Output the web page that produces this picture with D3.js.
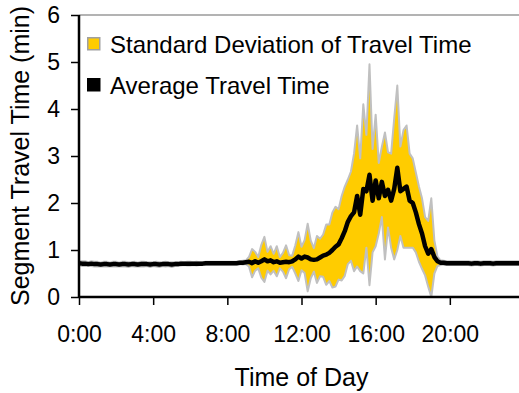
<!DOCTYPE html>
<html>
<head>
<meta charset="utf-8">
<script src="https://cdn.jsdelivr.net/npm/d3@7/dist/d3.min.js"></script>
<style>
  html, body { margin: 0; padding: 0; background: #fff; }
  svg { display: block; font-family: "Liberation Sans", Arial, sans-serif; }
</style>
</head>
<body>
<div id="chart"></div>
<script>
// 10-minute bins, hours of day
const binHours = d3.range(0, 144).map(i => i / 6);

const meanTravel = [
  0.72, 0.71, 0.71, 0.70, 0.71, 0.70,   // 0h
  0.70, 0.69, 0.70, 0.70, 0.69, 0.70,   // 1h
  0.70, 0.69, 0.70, 0.70, 0.69, 0.70,   // 2h
  0.70, 0.69, 0.70, 0.70, 0.70, 0.69,   // 3h
  0.70, 0.70, 0.69, 0.70, 0.70, 0.70,   // 4h
  0.69, 0.70, 0.70, 0.71, 0.71, 0.71,   // 5h
  0.71, 0.71, 0.71, 0.71, 0.71, 0.72,   // 6h
  0.72, 0.72, 0.72, 0.72, 0.72, 0.72,   // 7h
  0.72, 0.72, 0.72, 0.72, 0.73, 0.73,   // 8h
  0.74, 0.75, 0.72, 0.76, 0.73, 0.76,   // 9h
  0.80, 0.76, 0.78, 0.74, 0.76, 0.73,   // 10h
  0.74, 0.75, 0.74, 0.76, 0.80, 0.86,   // 11h
  0.82, 0.86, 0.84, 0.80, 0.79, 0.80,   // 12h
  0.84, 0.88, 0.90, 0.94, 1.00, 1.07,   // 13h
  1.12, 1.25, 1.40, 1.60, 1.72, 1.80,   // 14h
  2.15, 1.75, 2.30, 2.25, 2.60, 2.05,   // 15h
  2.48, 2.10, 2.45, 2.15, 2.28, 2.05,   // 16h
  2.30, 2.75, 2.25, 2.30, 2.35, 2.05,   // 17h
  2.00, 1.80, 1.55, 1.35, 1.08, 0.92,   // 18h
  1.02, 0.85, 0.76, 0.73, 0.73, 0.72,   // 19h
  0.72, 0.72, 0.72, 0.72, 0.72, 0.72,   // 20h
  0.72, 0.71, 0.72, 0.72, 0.71, 0.72,   // 21h
  0.72, 0.72, 0.71, 0.72, 0.72, 0.72,   // 22h
  0.72, 0.72, 0.72, 0.72, 0.72, 0.72    // 23h
];

const sdTravel = [
  0.04, 0.05, 0.05, 0.04, 0.05, 0.05,
  0.05, 0.04, 0.05, 0.05, 0.04, 0.05,
  0.05, 0.04, 0.05, 0.05, 0.05, 0.04,
  0.05, 0.04, 0.05, 0.05, 0.04, 0.05,
  0.04, 0.05, 0.05, 0.04, 0.05, 0.04,
  0.05, 0.04, 0.04, 0.04, 0.03, 0.04,
  0.04, 0.03, 0.04, 0.03, 0.03, 0.03,
  0.03, 0.03, 0.03, 0.03, 0.03, 0.03,
  0.03, 0.03, 0.03, 0.03, 0.03, 0.04,
  0.04, 0.10, 0.30, 0.20, 0.12, 0.35,
  0.48, 0.20, 0.30, 0.18, 0.32, 0.12,
  0.20, 0.35, 0.15, 0.12, 0.30, 0.52,
  0.25, 0.35, 0.72, 0.40, 0.25, 0.50,
  0.40, 0.45, 0.64, 0.60, 0.80, 0.85,
  0.75, 0.90, 0.95, 0.90, 0.95, 1.25,
  1.50, 1.20, 1.80, 1.20, 2.35, 1.10,
  1.40, 0.75, 0.75, 1.35, 0.80, 1.00,
  1.50, 1.75, 0.95, 1.25, 1.30, 1.00,
  0.95, 0.85, 0.80, 0.75, 0.62, 0.70,
  1.08, 0.35, 0.10, 0.05, 0.04, 0.04,
  0.04, 0.04, 0.04, 0.04, 0.04, 0.04,
  0.04, 0.04, 0.04, 0.04, 0.04, 0.04,
  0.04, 0.04, 0.04, 0.04, 0.04, 0.04,
  0.04, 0.04, 0.04, 0.04, 0.04, 0.04
];

const xTicks = [0, 4, 8, 12, 16, 20];
const xTickLabels = ['0:00', '4:00', '8:00', '12:00', '16:00', '20:00'];
const yTicks = [0, 1, 2, 3, 4, 5, 6];
const legendLabels = ['Standard Deviation of Travel Time', 'Average Travel Time'];

const W = 519, H = 393;
const plot = { left: 79, top: 15, right: 524, bottom: 297 };

const svg = d3.select('#chart').append('svg')
    .attr('width', W)
    .attr('height', H);

const x = d3.scaleLinear().domain([0, 24]).range([plot.left, plot.right]);
const y = d3.scaleLinear().domain([0, 6]).range([plot.bottom, plot.top]);

const rows = binHours.map((h, i) => ({ h, m: meanTravel[i], sd: sdTravel[i] }));

// top frame line
svg.append('line')
    .attr('x1', plot.left).attr('x2', plot.right)
    .attr('y1', plot.top).attr('y2', plot.top)
    .attr('stroke', '#9a9a9a')
    .attr('stroke-width', 1.5);

// std dev band
const band = d3.area()
    .x(d => x(d.h))
    .y0(d => y(Math.max(0, d.m - d.sd)))
    .y1(d => y(d.m + d.sd));

svg.append('path')
    .datum(rows)
    .attr('d', band)
    .attr('fill', '#ffcc00')
    .attr('stroke', '#c0c0c0')
    .attr('stroke-width', 2)
    .attr('stroke-linejoin', 'round');

// average line
svg.append('path')
    .datum(rows)
    .attr('d', d3.line().x(d => x(d.h)).y(d => y(d.m)))
    .attr('fill', 'none')
    .attr('stroke', '#000')
    .attr('stroke-width', 4.5)
    .attr('stroke-linejoin', 'round');

// axes
const yAxis = svg.append('g')
    .attr('transform', `translate(${plot.left},0)`)
    .call(d3.axisLeft(y).tickValues(yTicks).tickSize(8).tickPadding(11).tickFormat(d3.format('d')));

const xAxis = svg.append('g')
    .attr('transform', `translate(0,${plot.bottom})`)
    .call(d3.axisBottom(x).tickValues(xTicks).tickSize(8).tickPadding(21)
      .tickFormat((d, i) => xTickLabels[i]));

[yAxis, xAxis].forEach(g => {
  g.select('.domain').attr('stroke', '#000').attr('stroke-width', 2.5);
  g.selectAll('.tick line').attr('stroke', '#000').attr('stroke-width', 1.5);
  g.selectAll('.tick text')
      .attr('fill', '#000')
      .style('font-size', '23px')
      .style('font-family', '"Liberation Sans", Arial, sans-serif');
});
// axis line to image edge
xAxis.select('.domain').attr('d', `M${plot.left},0H${plot.right}`);
yAxis.select('.domain').attr('d', `M0,${plot.top}V${plot.bottom}`);

// titles
svg.append('text')
    .attr('x', x(12))
    .attr('y', 386)
    .attr('text-anchor', 'middle')
    .style('font-size', '25px')
    .text('Time of Day');

svg.append('text')
    .attr('transform', `translate(29,${156}) rotate(-90)`)
    .attr('text-anchor', 'middle')
    .style('font-size', '25px')
    .text('Segment Travel Time (min)');

// legend
const legend = svg.append('g').attr('transform', 'translate(87,37)');
const legendFill = ['#ffcc00', '#000'];
const legendStroke = ['#a0a0a0', '#000'];
legendLabels.forEach((lab, i) => {
  const row = legend.append('g').attr('transform', `translate(0,${i * 41})`);
  row.append('rect')
      .attr('x', 0.75).attr('y', 0.75)
      .attr('width', 12).attr('height', 12)
      .attr('fill', legendFill[i])
      .attr('stroke', legendStroke[i])
      .attr('stroke-width', 1.5);
  row.append('text')
      .attr('x', 23)
      .attr('y', 15.5)
      .style('font-size', '24px')
      .text(lab);
});
</script>
</body>
</html>
